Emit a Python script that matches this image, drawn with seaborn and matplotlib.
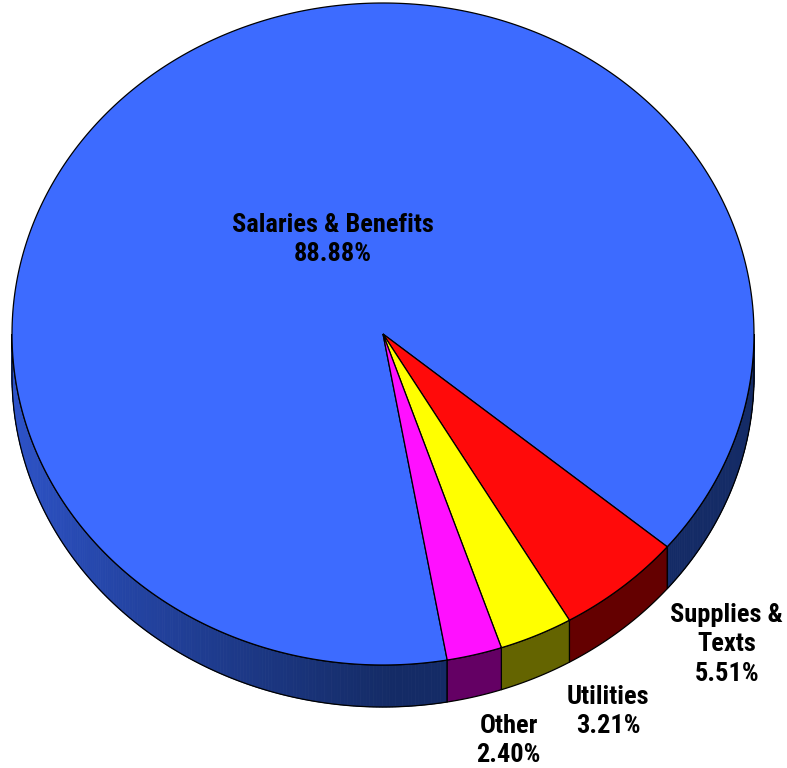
import numpy as np
import matplotlib.pyplot as plt
import seaborn as sns
from matplotlib import font_manager

labels = ['Salaries & Benefits', 'Supplies &\nTexts', 'Utilities', 'Other']
shares = [88.88, 5.51, 3.21, 2.40]
top_colors = ['#3D6BFF', '#FF0A0A', '#FFFF00', '#FF10FF']
side_colors = ['#142A62', '#640000', '#646400', '#640064']

sns.set_theme(style='white')
names = {f.name for f in font_manager.fontManager.ttflist}
narrow = [n for n in ['Liberation Sans Narrow', 'Arial Narrow', 'Roboto Condensed',
                      'DejaVu Sans Condensed', 'Open Sans Condensed'] if n in names]
fam = narrow[0] if narrow else 'Roboto'
fsize = 19 if narrow else 17
plt.rcParams['font.family'] = [fam, 'DejaVu Sans']

# ellipse geometry in pixel space
cx, cy, a, b, depth = 383, 334, 371, 331, 42
start = -40.0  # first slice boundary, going counter-clockwise for salaries

fig = plt.figure(figsize=(7.87, 7.68), dpi=100)
ax = fig.add_axes([0, 0, 1, 1])
ax.set_xlim(0, 787)
ax.set_ylim(768, 0)
ax.axis('off')

# slice angle ranges: salaries CCW from start, rest clockwise from start
spans = np.array(shares) / sum(shares) * 360
ranges = [(start, start + spans[0])]
edge = start
for s in spans[1:]:
    ranges.append((edge - s, edge))
    edge -= s


def pt(t, drop=0.0):
    t = np.radians(t)
    return cx + a * np.cos(t), cy - b * np.sin(t) + drop


def side_shade(x):
    light = np.array([0.18, 0.33, 0.80])
    dark = np.array([0.08, 0.17, 0.40])
    f = np.clip((x - 10) / 380, 0, 1) ** 0.8
    return light * (1 - f) + dark * f


# side walls (front half only)
for i, (t0, t1) in enumerate(ranges):
    for k in range(-1, 2):
        lo = max(t0, 180 + 360 * k)
        hi = min(t1, 360 + 360 * k)
        if hi <= lo:
            continue
        if i == 0:
            steps = np.linspace(lo, hi, int((hi - lo) * 2) + 2)
            for u0, u1 in zip(steps[:-1], steps[1:]):
                xa, ya = pt(u0)
                xb, yb = pt(u1)
                ax.fill([xa, xb, xb, xa], [ya, yb, yb + depth, ya + depth],
                        color=side_shade((xa + xb) / 2), lw=0.6,
                        ec=side_shade((xa + xb) / 2))
            col = 'none'
        else:
            col = side_colors[i]
        tt = np.linspace(lo, hi, 200)
        xs, ys = pt(tt)
        ax.fill(np.r_[xs, xs[::-1]], np.r_[ys, ys[::-1] + depth],
                fc=col, ec='black', lw=0.9, zorder=2)

# top faces
for i, (t0, t1) in enumerate(ranges):
    tt = np.linspace(t0, t1, 400)
    xs, ys = pt(tt)
    ax.fill(np.r_[cx, xs], np.r_[cy, ys], fc=top_colors[i], ec='black',
            lw=0.9, zorder=3)

# labels
font = dict(fontsize=fsize, fontweight='bold', color='black', ha='center',
            va='center', linespacing=1.28, zorder=5)
mid0 = np.mean(ranges[0])
lx = cx + 0.27 * a * np.cos(np.radians(mid0))
ly = cy - 0.33 * b * np.sin(np.radians(mid0))
ax.text(lx, ly, f'{labels[0]}\n{shares[0]:.2f}%', **font)

offsets = [None, (105, 57), (72, 76), (34, 86)]
for i in range(1, 4):
    mid = np.mean(ranges[i])
    x0, y0 = pt(mid)
    dx, dy = offsets[i]
    ax.text(x0 + dx, y0 + dy, f'{labels[i]}\n{shares[i]:.2f}%', **font)

fig.savefig('out.png', dpi=100)
